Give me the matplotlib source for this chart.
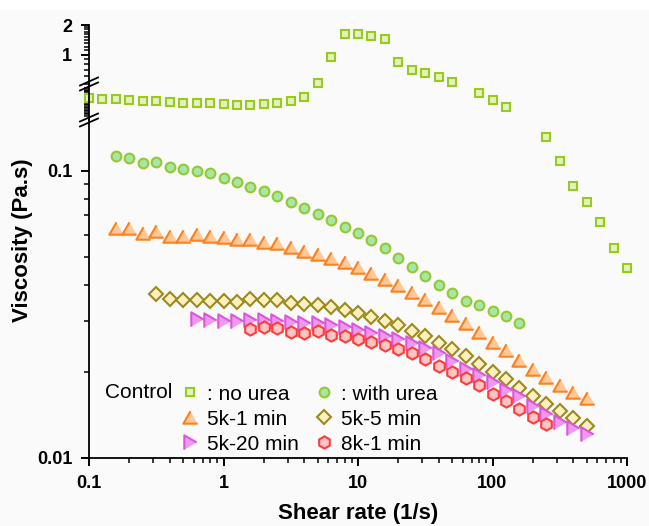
import matplotlib
matplotlib.use("Agg")
import matplotlib.pyplot as plt
import numpy as np
from matplotlib.lines import Line2D
from matplotlib.patches import Rectangle
from matplotlib.ticker import FixedLocator, FixedFormatter, NullFormatter, NullLocator

plt.rcParams['font.family'] = ['Liberation Sans', 'DejaVu Sans']

# shear rates (1/s), 10 points per decade
shear = [0.1, 0.126, 0.158, 0.2, 0.251, 0.316, 0.398, 0.501, 0.631, 0.794,
         1, 1.26, 1.58, 2, 2.51, 3.16, 3.98, 5.01, 6.31, 7.94,
         10, 12.6, 15.8, 20, 25.1, 31.6, 39.8, 50.1, 63.1, 79.4,
         100, 126, 158, 200, 251, 316, 398, 501, 631, 794, 1000]

no_urea_x = shear[0:28] + shear[29:32] + shear[34:41]
no_urea_y = [0.357, 0.355, 0.355, 0.352, 0.349, 0.349, 0.346, 0.343, 0.343, 0.343,
             0.341, 0.338, 0.338, 0.341, 0.343, 0.349, 0.360, 0.512, 0.943, 1.607,
             1.63, 1.534, 1.449, 0.839, 0.695, 0.647, 0.589, 0.524,
             0.372, 0.352, 0.333,
             0.131, 0.108, 0.0886, 0.078, 0.0664, 0.0539, 0.0459]

with_urea_x = shear[2:33]
with_urea_y = [0.1127, 0.111, 0.1069, 0.1077, 0.1035, 0.1014, 0.1002, 0.0982, 0.0943, 0.0916,
               0.0882, 0.0850, 0.0818, 0.0782, 0.0741, 0.0708, 0.0673, 0.0638, 0.0608, 0.0573,
               0.0539, 0.0498, 0.0463, 0.0432, 0.0401, 0.0375, 0.0353, 0.0340, 0.0324, 0.0313,
               0.0295]

k5_1_x = shear[2:38]
k5_1_y = [0.0632, 0.0632, 0.0607, 0.0618, 0.0595, 0.0594, 0.0602, 0.0595, 0.0587, 0.0580,
          0.0580, 0.0567, 0.0560, 0.0545, 0.0528, 0.0513, 0.0498, 0.0482, 0.0464, 0.0442,
          0.0422, 0.0402, 0.0380, 0.0357, 0.0337, 0.0315, 0.0295, 0.0274, 0.0254, 0.0238,
          0.0219, 0.0204, 0.0191, 0.0180, 0.0170, 0.0162]

k5_5_x = shear[5:38]
k5_5_y = [0.0372, 0.0358, 0.0355, 0.0355, 0.0353, 0.0353, 0.0350, 0.0357, 0.0355, 0.0355,
          0.0348, 0.0344, 0.0341, 0.0335, 0.0328, 0.0319, 0.0311, 0.0300, 0.0291, 0.0278,
          0.0267, 0.0252, 0.0239, 0.0227, 0.0213, 0.0200, 0.0189, 0.0176, 0.0165, 0.0154,
          0.0146, 0.0138, 0.0129]

k5_20_x = shear[8:38]
k5_20_y = [0.0304, 0.0302, 0.0300, 0.0299, 0.0302, 0.0302, 0.0300, 0.0298, 0.0295, 0.0295,
           0.0291, 0.0287, 0.0280, 0.0273, 0.0267, 0.0259, 0.0251, 0.0241, 0.0232, 0.0218,
           0.0205, 0.0195, 0.0184, 0.0173, 0.0164, 0.0152, 0.0142, 0.0134, 0.0127, 0.0121]

k8_1_x = shear[12:35]
k8_1_y = [0.0281, 0.0287, 0.0283, 0.0274, 0.0272, 0.0276, 0.0268, 0.0266, 0.0259, 0.0254,
          0.0248, 0.0239, 0.0232, 0.0221, 0.0210, 0.0200, 0.0190, 0.0179, 0.0167, 0.0158,
          0.0148, 0.0139, 0.0131]

tri_up = [(0, 0.433), (-0.5, -0.433), (0.5, -0.433)]
tri_right = [(0.433, 0), (-0.433, 0.5), (-0.433, -0.5)]

series = [
    (no_urea_x, no_urea_y, ': no urea', dict(marker='s', ms=6.0, mfc='#e4f0c4', mec='#99cc1a')),
    (with_urea_x, with_urea_y, ': with urea', dict(marker='o', ms=7.0, mfc='#a6e6a6', mec='#96c832')),
    (k5_1_x, k5_1_y, '5k-1 min', dict(marker=tri_up, ms=10.3, mfc='#ffc899', mec='#ff7f1a')),
    (k5_5_x, k5_5_y, '5k-5 min', dict(marker='D', ms=6.8, mfc='#fff0c0', mec='#9c8a1c')),
    (k5_20_x, k5_20_y, '5k-20 min', dict(marker=tri_right, ms=10.3, mfc='#ee99ee', mec='#dd55dd')),
    (k8_1_x, k8_1_y, '8k-1 min', dict(marker='h', ms=8.8, mfc='#ffc4c4', mec='#ff3b3b')),
]

W, H = 649, 526
fig = plt.figure(figsize=(W / 100, H / 100), dpi=100, facecolor='#fafafa')
fig.patches.append(Rectangle((0, 1 - 10 / H), 1, 10 / H, transform=fig.transFigure,
                             facecolor='white', edgecolor='none', zorder=-1))


def px_axes(top, bottom):
    return fig.add_axes([89 / W, 1 - bottom / H, (627 - 89) / W, (bottom - top) / H])


ax_low = px_axes(120, 458)
ax_mid = px_axes(84, 120)
ax_up = px_axes(25, 84)
segments = [(ax_low, 0.01, 0.1505), (ax_mid, 0.3, 0.4), (ax_up, 0.5, 2.0)]

for ax, lo, hi in segments:
    ax.set_facecolor('none')
    ax.set_xscale('log')
    ax.set_yscale('log')
    ax.set_xlim(0.1, 1000)
    ax.set_ylim(lo, hi)
    for s in ['top', 'right']:
        ax.spines[s].set_visible(False)
    ax.spines['left'].set_linewidth(1.3)
    ax.spines['bottom'].set_linewidth(1.3)
    ax.tick_params(which='major', direction='out', length=6, width=1.4, labelsize=13, pad=6)
    ax.tick_params(which='minor', direction='out', length=3.5, width=1.1)
    if ax is not ax_low:
        ax.spines['bottom'].set_visible(False)
        ax.xaxis.set_major_locator(NullLocator())
        ax.xaxis.set_minor_locator(NullLocator())
    for x, y, lab, st in series:
        x = np.array(x)
        y = np.array(y)
        m = (y >= lo) & (y <= hi)
        ax.plot(x[m], y[m], ls='none', mew=1.5, clip_on=False, **st)

# y ticks per segment
ax_low.yaxis.set_major_locator(FixedLocator([0.01, 0.1]))
ax_low.yaxis.set_major_formatter(FixedFormatter(['0.01', '0.1']))
ax_low.yaxis.set_minor_locator(FixedLocator([0.02, 0.03, 0.04, 0.05, 0.06, 0.07, 0.08, 0.09]))
ax_low.yaxis.set_minor_formatter(NullFormatter())

ax_mid.yaxis.set_major_locator(NullLocator())
ax_mid.yaxis.set_minor_locator(FixedLocator(list(np.arange(0.31, 0.386, 0.004))))
ax_mid.yaxis.set_minor_formatter(NullFormatter())

ax_up.yaxis.set_major_locator(FixedLocator([1, 2]))
ax_up.yaxis.set_major_formatter(FixedFormatter(['1', '2']))
ax_up.yaxis.set_minor_locator(FixedLocator([0.5, 0.6, 0.7, 0.8, 0.9, 1.1, 1.2, 1.3, 1.4,
                                            1.5, 1.6, 1.7, 1.8, 1.9]))
ax_up.yaxis.set_minor_formatter(NullFormatter())

ax_low.xaxis.set_major_locator(FixedLocator([0.1, 1, 10, 100, 1000]))
ax_low.xaxis.set_major_formatter(FixedFormatter(['0.1', '1', '10', '100', '1000']))
ax_low.xaxis.set_minor_locator(FixedLocator([m * 10.0 ** e for e in range(-1, 3) for m in range(2, 10)]))
ax_low.xaxis.set_minor_formatter(NullFormatter())
for lab in ax_low.get_xticklabels() + ax_low.get_yticklabels() + ax_up.get_yticklabels():
    lab.set_fontweight('bold')

# axis break marks
for yb in (84, 120):
    for off in (-2.5, 2.5):
        fig.add_artist(Line2D([(89 - 9) / W, (89 + 9) / W],
                              [1 - (yb + off + 4) / H, 1 - (yb + off - 4) / H],
                              color='black', lw=1.3, transform=fig.transFigure))

fig.text(358 / W, 1 - 513 / H, 'Shear rate (1/s)', ha='center', va='center',
         fontsize=16, fontweight='bold')
fig.text(23 / W, 1 - 240 / H, 'Viscosity (Pa.s)', ha='center', va='center',
         rotation=90, fontsize=16, fontweight='bold')

# legend
handles = {}
for x, y, lab, st in series:
    handles[lab] = Line2D([], [], ls='none', mew=1.5, **st)
order = [': no urea', '5k-1 min', '5k-20 min', ': with urea', '5k-5 min', '8k-1 min']
ax_low.legend([handles[o] for o in order], order, ncol=2, loc='upper left',
              bbox_to_anchor=(179.6 / W, 1 - 384.5 / H), bbox_transform=fig.transFigure,
              frameon=False, fontsize=15, handlelength=1.0, handletextpad=0.316,
              columnspacing=0.7, labelspacing=0.29, borderpad=0, borderaxespad=0)
fig.text(105 / W, 1 - 393 / H, 'Control', ha='left', va='center', fontsize=15)

fig.savefig('out.png', dpi=100, facecolor=fig.get_facecolor())
